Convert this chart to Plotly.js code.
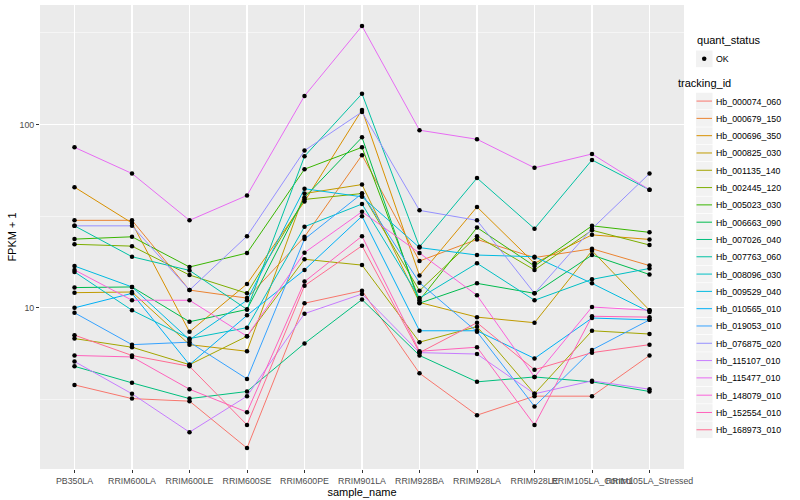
<!DOCTYPE html>
<html>
<head>
<meta charset="utf-8">
<script src="https://cdn.plot.ly/plotly-3.0.1.min.js"></script>
<style>html,body{margin:0;padding:0;background:#fff;}#chart{width:800px;height:500px;}</style>
</head>
<body>
<div id="chart"></div>
<script>
// ---- data (FPKM + 1) ----
const categories = ["PB350LA","RRIM600LA","RRIM600LE","RRIM600SE","RRIM600PE","RRIM901LA","RRIM928BA","RRIM928LA","RRIM928LE","RRIM105LA_Control","RRIM105LA_Stressed"];
const yTickVals = [10, 100];
const yTickText = ["10", "100"];

const hb_000074_060 = [3.8, 3.2, 3.1, 1.72, 10.6, 12.4, 4.4, 2.6, 3.3, 3.3, 5.5];
const hb_000679_150 = [30, 30, 12.5, 11.3, 24.4, 68, 18, 23.6, 18.8, 21, 17];
const hb_000696_350 = [45.5, 29, 7.4, 13.5, 38, 120, 15, 35.5, 17.5, 25, 23.6];
const hb_000825_030 = [12.1, 12.2, 6.3, 5.8, 42, 47, 10.7, 8.9, 8.3, 20.5, 9.7];
const hb_001135_140 = [6.8, 6.1, 4.9, 7.0, 18.4, 17.1, 6.5, 7.9, 3.4, 7.5, 7.2];
const hb_002445_120 = [22.2, 21.7, 15.1, 12, 39, 42, 12.4, 24.6, 16.1, 26.5, 22];
const hb_005023_030 = [23.7, 24.4, 16.7, 19.9, 57, 75, 11, 27.4, 16.9, 28, 25.8];
const hb_006663_090 = [12.9, 13, 8.4, 9.8, 40, 85, 10.6, 13.6, 12, 19.4, 15.2];
const hb_007026_040 = [4.8, 3.9, 3.2, 3.5, 6.4, 11.1, 5.5, 3.95, 4.2, 3.95, 3.5];
const hb_007763_060 = [28, 19, 16, 9.8, 67, 147, 21.5, 51, 27, 64, 44];
const hb_008096_030 = [15.7, 9.7, 6.8, 7.8, 27.7, 36.8, 11.3, 17.5, 11, 14.3, 16.4];
const hb_009529_040 = [16.9, 13, 6.7, 11, 44.6, 40.3, 21.3, 19.4, 19, 13.6, 9.5];
const hb_010565_010 = [10, 12, 4.9, 9.1, 16.1, 31.6, 7.5, 7.5, 5.3, 8.8, 8.6];
const hb_019053_010 = [9.4, 6.3, 6.5, 4.1, 23.7, 42, 13.7, 7.4, 2.9, 5.9, 8.6];
const hb_076875_020 = [28, 28, 12.5, 24.6, 72, 117, 34, 30, 12, 27, 54];
const hb_115107_010 = [5.1, 3.4, 2.1, 3.3, 9.3, 11.9, 5.7, 5.6, 3.4, 4.0, 3.6];
const hb_115477_010 = [75, 54, 30, 41, 143, 344, 93, 83, 58, 69, 44];
const hb_148079_010 = [16.1, 11, 11, 7.0, 20, 33.4, 19.9, 11.7, 4.2, 10.1, 9.7];
const hb_152554_010 = [5.5, 5.4, 3.6, 2.7, 13.9, 24.6, 5.8, 6.1, 2.3, 9.0, 8.9];
const hb_168973_010 = [7.1, 5.5, 4.8, 2.3, 13.2, 21.8, 5.7, 8.3, 4.6, 5.7, 6.3];

const trackingIds = ["Hb_000074_060","Hb_000679_150","Hb_000696_350","Hb_000825_030","Hb_001135_140","Hb_002445_120","Hb_005023_030","Hb_006663_090","Hb_007026_040","Hb_007763_060","Hb_008096_030","Hb_009529_040","Hb_010565_010","Hb_019053_010","Hb_076875_020","Hb_115107_010","Hb_115477_010","Hb_148079_010","Hb_152554_010","Hb_168973_010"];
const seriesValues = [hb_000074_060,hb_000679_150,hb_000696_350,hb_000825_030,hb_001135_140,hb_002445_120,hb_005023_030,hb_006663_090,hb_007026_040,hb_007763_060,hb_008096_030,hb_009529_040,hb_010565_010,hb_019053_010,hb_076875_020,hb_115107_010,hb_115477_010,hb_148079_010,hb_152554_010,hb_168973_010];
const lineColors = ["#F8766D","#EA8331","#D89000","#C09B00","#A3A500","#7CAE00","#39B600","#00BB4E","#00BF7D","#00C1A3","#00BFC4","#00BAE0","#00B0F6","#35A2FF","#9590FF","#C77CFF","#E76BF3","#FA62DB","#FF62BC","#FF6C91"];
const quantStatus = "OK";

// ---- traces ----
const traces = [];
trackingIds.forEach(function (id, i) {
  traces.push({
    type: "scatter", mode: "lines", name: id,
    x: categories, y: seriesValues[i],
    line: {color: lineColors[i], width: 1},
    legend: "legend2", hoverinfo: "x+y+name"
  });
});
const allX = [], allY = [];
seriesValues.forEach(function (vals) {
  vals.forEach(function (v, j) { allX.push(categories[j]); allY.push(v); });
});
traces.push({
  type: "scatter", mode: "markers", name: quantStatus,
  x: allX, y: allY,
  marker: {color: "black", size: 4.5},
  legend: "legend", showlegend: true, hoverinfo: "x+y"
});

const FONT = "Liberation Sans, Arial, Helvetica, sans-serif";
const layout = {
  width: 800, height: 500,
  margin: {l: 40, r: 116, t: 5, b: 31},
  paper_bgcolor: "#FFFFFF", plot_bgcolor: "#EBEBEB",
  font: {family: FONT, color: "#000"},
  showlegend: true,
  xaxis: {
    type: "category", categoryorder: "array", categoryarray: categories,
    range: [-0.6, 10.6], showgrid: true, gridcolor: "#FFFFFF", gridwidth: 1.1,
    zeroline: false, showline: false,
    ticks: "outside", ticklen: 3, tickwidth: 1, tickcolor: "#333333",
    tickangle: 0, tickfont: {size: 8.8, color: "#4D4D4D", family: FONT},
    title: {text: "sample_name", font: {size: 11, color: "#000", family: FONT}, standoff: 2},
    automargin: false
  },
  yaxis: {
    type: "log", range: [0.1215, 2.651],
    tickmode: "array", tickvals: yTickVals, ticktext: yTickText,
    showgrid: true, gridcolor: "#FFFFFF", gridwidth: 1.1,
    minor: {tickmode: "array", tickvals: [3.1623, 31.623, 316.23], showgrid: true, gridcolor: "#FFFFFF", gridwidth: 0.5, ticks: ""},
    zeroline: false, showline: false,
    ticks: "outside", ticklen: 3, tickwidth: 1, tickcolor: "#333333",
    tickfont: {size: 8.8, color: "#4D4D4D", family: FONT},
    title: {text: "FPKM + 1", font: {size: 11, color: "#000", family: FONT}, standoff: 0},
    automargin: false
  },
  legend: {
    x: 0.9876, xanchor: "left", y: 0.946, yanchor: "top",
    bgcolor: "rgba(0,0,0,0)", borderwidth: 0,
    font: {size: 8.8, family: FONT, color: "#000"},
    title: {text: "quant_status", font: {size: 11, family: FONT, color: "#000"}},
    itemwidth: 30
  },
  legend2: {
    x: 0.9876, xanchor: "left", y: 0.855, yanchor: "top",
    bgcolor: "rgba(0,0,0,0)", borderwidth: 0,
    font: {size: 8.8, family: FONT, color: "#000"},
    title: {text: "tracking_id", font: {size: 11, family: FONT, color: "#000"}},
    itemwidth: 30
  }
};

function parseTranslate(t) {
  const m = /translate\(\s*([-\d.]+)[ ,]+([-\d.]+)\s*\)/.exec(t || "");
  return m ? [parseFloat(m[1]), parseFloat(m[2])] : [0, 0];
}

// ggplot-style legend keys: grey key boxes, short key lines, 17.3px item pitch
function styleLegend(gd, cls, pitch) {
  const box = gd.querySelector("g." + cls);
  if (!box) return;
  box.querySelectorAll("[clip-path]").forEach(function (el) { el.removeAttribute("clip-path"); });
  const items = box.querySelectorAll("g.traces");
  let base = null;
  items.forEach(function (g, i) {
    const tr = parseTranslate(g.getAttribute("transform"));
    if (base === null) base = tr[1];
    if (pitch) g.setAttribute("transform", "translate(" + tr[0] + "," + (base + i * pitch) + ")");
    const rect = document.createElementNS("http://www.w3.org/2000/svg", "rect");
    rect.setAttribute("x", 20); rect.setAttribute("y", -8.3);
    rect.setAttribute("width", 16.5); rect.setAttribute("height", 16.6);
    rect.setAttribute("fill", "#F2F2F2");
    g.insertBefore(rect, g.firstChild);
    g.querySelectorAll(".legendlines path").forEach(function (p) {
      p.setAttribute("d", "M20.5,0h15.5");
    });
    g.querySelectorAll(".legendpoints path").forEach(function (p) {
      const t = parseTranslate(p.getAttribute("transform"));
      p.setAttribute("transform", "translate(28.2," + t[1] + ")");
    });
  });
  box.querySelectorAll(".legendtitletext").forEach(function (t) {
    const x = parseFloat(t.getAttribute("x") || "0");
    t.setAttribute("x", x + 19);
    t.querySelectorAll("tspan[x]").forEach(function (s) {
      s.setAttribute("x", parseFloat(s.getAttribute("x")) + 19);
    });
  });
}

Plotly.newPlot("chart", traces, layout, {displayModeBar: false, staticPlot: true}).then(function (gd) {
  styleLegend(gd, "legend", null);
  styleLegend(gd, "legend2", 17.3);
});
</script>
</body>
</html>
